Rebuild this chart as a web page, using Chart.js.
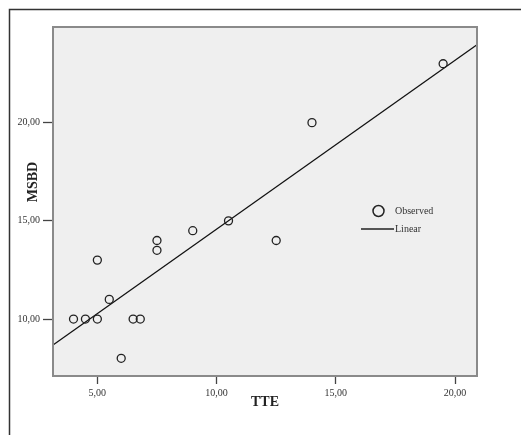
<!DOCTYPE html>
<html>
<head>
<meta charset="utf-8">
<script src="https://cdn.jsdelivr.net/npm/chart.js@4.4.1/dist/chart.umd.min.js"></script>
<style>
  html, body { margin: 0; padding: 0; background: #fff; }
  #wrap { width: 521px; height: 435px; position: relative; }
</style>
</head>
<body>
<div id="wrap"><canvas id="myChart" width="521" height="435"></canvas></div>
<script>
// observed points (TTE vs MSBD)
const tte  = [4, 4.5, 5, 5, 5.5, 6, 6.5, 6.8, 7.5, 7.5, 9, 10.5, 12.5, 14, 19.5];
const msbd = [10, 10, 10, 13, 11, 8, 10, 10, 14, 13.5, 14.5, 15, 14, 20, 23];

// linear fit at the two plot edges
const fitX = [3.14, 20.92];
const fitY = [8.68, 23.97];

const xTicks = [5, 10, 15, 20];
const yTicks = [10, 15, 20];

const serif = "'Liberation Serif', 'DejaVu Serif', serif";

const observados = tte.map((x, i) => ({ x: x, y: msbd[i] }));
const linea = fitX.map((x, i) => ({ x: x, y: fitY[i] }));

// marco exterior, fondo del area, titulo Y y leyenda
const decoracion = {
  id: 'decoracion',
  beforeDraw(chart) {
    const { ctx, chartArea: a } = chart;
    ctx.save();
    ctx.strokeStyle = '#333';
    ctx.lineWidth = 1.5;
    ctx.beginPath();
    ctx.moveTo(9.5, 440);
    ctx.lineTo(9.5, 9.5);
    ctx.lineTo(521, 9.5);
    ctx.stroke();
    ctx.fillStyle = '#efefef';
    ctx.fillRect(a.left, a.top, a.right - a.left, a.bottom - a.top);
    ctx.restore();
  },
  afterDraw(chart) {
    const { ctx, chartArea: a } = chart;
    ctx.save();
    ctx.strokeStyle = '#8a8a8a';
    ctx.lineWidth = 2;
    ctx.strokeRect(a.left, a.top, a.right - a.left, a.bottom - a.top);

    // titulo eje Y
    ctx.translate(33, 182);
    ctx.rotate(-Math.PI / 2);
    ctx.fillStyle = '#222';
    ctx.font = 'bold 14px ' + serif;
    ctx.textAlign = 'center';
    ctx.textBaseline = 'middle';
    ctx.fillText('MSBD', 0, 0);
    ctx.restore();

    // leyenda
    ctx.save();
    ctx.strokeStyle = '#222';
    ctx.lineWidth = 1.5;
    ctx.beginPath();
    ctx.arc(378.5, 211, 5.5, 0, Math.PI * 2);
    ctx.stroke();
    ctx.lineWidth = 1.3;
    ctx.beginPath();
    ctx.moveTo(361, 229);
    ctx.lineTo(394, 229);
    ctx.stroke();
    ctx.fillStyle = '#333';
    ctx.font = '10px ' + serif;
    ctx.textBaseline = 'middle';
    ctx.fillText('Observed', 395, 211);
    ctx.fillText('Linear', 395, 229);
    ctx.restore();
  }
};

const config = {
  type: 'scatter',
  data: {
    datasets: [
      {
        label: 'Observed',
        data: observados,
        pointRadius: 4,
        pointHoverRadius: 4,
        borderColor: '#222',
        borderWidth: 1.3,
        backgroundColor: 'rgba(0,0,0,0)'
      },
      {
        label: 'Linear',
        data: linea,
        showLine: true,
        pointRadius: 0,
        borderColor: '#111',
        borderWidth: 1.3,
        fill: false
      }
    ]
  },
  options: {
    responsive: false,
    animation: false,
    layout: { padding: { top: 27, right: 44, left: 0, bottom: 0 } },
    plugins: { legend: { display: false }, tooltip: { enabled: false } },
    scales: {
      x: {
        type: 'linear',
        min: 3.14,
        max: 20.92,
        afterBuildTicks: (s) => { s.ticks = xTicks.map(v => ({ value: v })); },
        afterFit: (s) => { s.height = 59; },
        border: { display: false },
        grid: { drawOnChartArea: false, tickLength: 8, tickColor: '#444', tickWidth: 1.3 },
        ticks: {
          color: '#333',
          padding: 3,
          maxRotation: 0,
          font: { family: serif, size: 10 },
          callback: (v) => v.toFixed(2).replace('.', ',')
        },
        title: {
          display: true,
          text: 'TTE',
          color: '#222',
          font: { family: serif, size: 14, weight: 'bold' },
          padding: { top: 0, bottom: 24 }
        }
      },
      y: {
        type: 'linear',
        min: 7.1,
        max: 24.87,
        afterBuildTicks: (s) => { s.ticks = yTicks.map(v => ({ value: v })); },
        afterFit: (s) => { s.width = 53; },
        border: { display: false },
        grid: { drawOnChartArea: false, tickLength: 10, tickColor: '#444', tickWidth: 1.3 },
        ticks: {
          color: '#333',
          padding: 3,
          font: { family: serif, size: 10 },
          callback: (v) => v.toFixed(2).replace('.', ',')
        }
      }
    }
  },
  plugins: [decoracion]
};

new Chart(document.getElementById('myChart'), config);
</script>
</body>
</html>
